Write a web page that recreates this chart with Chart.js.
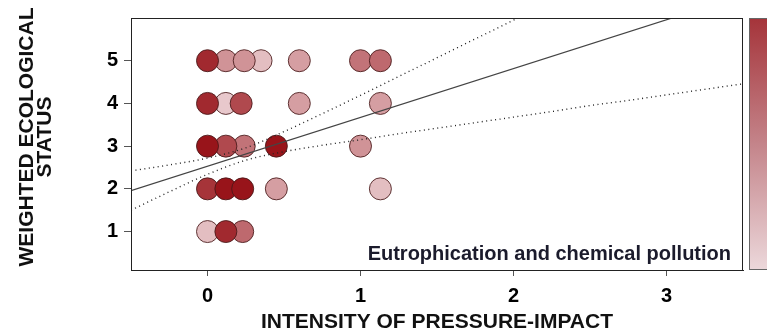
<!DOCTYPE html>
<html>
<head>
<meta charset="utf-8">
<script src="https://cdn.jsdelivr.net/npm/chart.js@4.4.0/dist/chart.umd.min.js"></script>
<style>
  html, body { margin: 0; padding: 0; background: #fff; }
  #wrap { width: 767px; height: 335px; }
</style>
</head>
<body>
<div id="wrap"><canvas id="chart" width="767" height="335"></canvas></div>
<script>
// pressure-impact intensity (x), weighted status (y), colour value (0 light .. 1 dark)
const pointX = [0, 0.12, 0.24, 0.35, 0.6, 1.0, 1.13,
                0, 0.12, 0.22, 0.6, 1.13,
                0, 0.12, 0.24, 0.45, 1.0,
                0, 0.12, 0.23, 0.45, 1.13,
                0, 0.12, 0.23];
const pointY = [5, 5, 5, 5, 5, 5, 5,
                4, 4, 4, 4, 4,
                3, 3, 3, 3, 3,
                2, 2, 2, 2, 2,
                1, 1, 1];
const pointShade = [0.9, 0.4, 0.4, 0.2, 0.35, 0.55, 0.6,
                    0.9, 0.15, 0.75, 0.35, 0.35,
                    1.0, 0.75, 0.55, 1.0, 0.4,
                    0.85, 1.0, 1.0, 0.35, 0.2,
                    0.2, 0.9, 0.6];

// regression line and its confidence band
const fitX = [-0.5, 3.5];
const fitY = [1.96, 6.53];
const bandX = [-0.5, -0.25, 0, 0.25, 0.5, 0.75, 1, 1.25, 1.5, 1.75, 2, 2.25, 2.5, 2.75, 3, 3.25, 3.5];
const bandUpper = [2.42, 2.56, 2.72, 2.96, 3.34, 3.76, 4.19, 4.63, 5.07, 5.51, 5.95, 6.39, 6.83, 7.27, 7.71, 8.16, 8.6];
const bandLower = [1.50, 1.93, 2.34, 2.67, 2.87, 3.02, 3.15, 3.29, 3.42, 3.55, 3.68, 3.81, 3.95, 4.07, 4.20, 4.33, 4.46];

const xTicks = [0, 1, 2, 3];
const yTicks = [1, 2, 3, 4, 5];
const yTitle = ['WEIGHTED ECOLOGICAL', 'STATUS'];
const panelLabel = 'Eutrophication and chemical pollution';

const shadeColor = (t) => {
    const lo = [246, 232, 235], hi = [152, 20, 26];
    const c = lo.map((v, i) => Math.round(v + (hi[i] - v) * t));
    return `rgb(${c[0]},${c[1]},${c[2]})`;
};

// darker circles drawn on top
const order = pointX.map((_, i) => i).sort((a, b) => pointShade[a] - pointShade[b]);
const scatterData = order.map(i => ({x: pointX[i], y: pointY[i]}));
const scatterColors = order.map(i => shadeColor(pointShade[i]));

const toXY = (xs, ys) => xs.map((x, i) => ({x: x, y: ys[i]}));

const boldFont = (size) => ({family: '"Liberation Sans", Arial, sans-serif', size: size, weight: 'bold'});

const framePlugin = {
    id: 'frame',
    afterDraw(chart) {
        const {ctx, chartArea: a} = chart;
        ctx.save();
        ctx.strokeStyle = '#222';
        ctx.lineWidth = 1;
        ctx.strokeRect(a.left + 0.5, a.top + 0.5, a.right - a.left - 1, a.bottom - a.top);

        // panel label
        ctx.font = 'bold 20px "Liberation Sans", Arial, sans-serif';
        ctx.fillStyle = '#1b1b2c';
        ctx.textAlign = 'right';
        ctx.textBaseline = 'alphabetic';
        ctx.fillText(panelLabel, a.right - 12, a.bottom - 10);

        // y title, two rotated lines
        ctx.font = 'bold 21px "Liberation Sans", Arial, sans-serif';
        ctx.fillStyle = '#111';
        ctx.textAlign = 'center';
        ctx.textBaseline = 'middle';
        [26.5, 44.5].forEach((x, i) => {
            ctx.save();
            ctx.translate(x, 137);
            ctx.rotate(-Math.PI / 2);
            ctx.fillText(yTitle[i], 0, 1);
            ctx.restore();
        });

        // colour bar
        const bx = a.right + 6, bw = 30;
        const g = ctx.createLinearGradient(0, a.top, 0, a.bottom);
        g.addColorStop(0, 'rgb(165,52,58)');
        g.addColorStop(0.5, 'rgb(196,132,138)');
        g.addColorStop(1, 'rgb(236,216,219)');
        ctx.fillStyle = g;
        ctx.fillRect(bx, a.top, bw, a.bottom - a.top);
        ctx.strokeStyle = '#666';
        ctx.strokeRect(bx + 0.5, a.top + 0.5, bw, a.bottom - a.top - 1);
        ctx.restore();
    }
};

const ctx = document.getElementById('chart').getContext('2d');
new Chart(ctx, {
    type: 'scatter',
    data: {
        datasets: [
            {
                label: 'fit',
                type: 'line',
                data: toXY(fitX, fitY),
                borderColor: '#444',
                borderWidth: 1.2,
                pointRadius: 0,
                fill: false,
                order: 0
            },
            {
                label: 'upper',
                type: 'line',
                data: toXY(bandX, bandUpper),
                borderColor: '#222',
                borderWidth: 1.4,
                borderDash: [1, 3.5],
                pointRadius: 0,
                cubicInterpolationMode: 'monotone',
                fill: false,
                order: 0
            },
            {
                label: 'lower',
                type: 'line',
                data: toXY(bandX, bandLower),
                borderColor: '#222',
                borderWidth: 1.4,
                borderDash: [1, 3.5],
                pointRadius: 0,
                cubicInterpolationMode: 'monotone',
                fill: false,
                order: 0
            },
            {
                label: 'sites',
                data: scatterData,
                backgroundColor: scatterColors,
                borderColor: 'rgba(70,25,25,0.85)',
                borderWidth: 1,
                pointRadius: 11,
                pointHoverRadius: 11,
                order: 1
            }
        ]
    },
    options: {
        responsive: false,
        animation: false,
        events: [],
        layout: {padding: {top: 15, right: 24, left: 0, bottom: 0}},
        plugins: {legend: {display: false}, tooltip: {enabled: false}},
        scales: {
            x: {
                type: 'linear',
                min: -0.5,
                max: 3.5,
                afterBuildTicks: s => { s.ticks = xTicks.map(v => ({value: v})); },
                afterFit: s => { s.height = 65; },
                grid: {drawOnChartArea: false, tickLength: 6, color: '#555'},
                border: {display: true, color: '#222'},
                ticks: {font: boldFont(20), color: '#000', padding: 8},
                title: {
                    display: true,
                    text: 'INTENSITY OF PRESSURE-IMPACT',
                    font: boldFont(21),
                    color: '#111',
                    padding: {top: 0, bottom: 0}
                }
            },
            y: {
                type: 'linear',
                min: 0.1,
                max: 6,
                afterBuildTicks: s => { s.ticks = yTicks.map(v => ({value: v})); },
                afterFit: s => { s.width = 131; },
                grid: {drawOnChartArea: false, tickLength: 7, color: '#555'},
                border: {display: true, color: '#222'},
                ticks: {font: boldFont(20), color: '#000', padding: 6}
            }
        }
    },
    plugins: [framePlugin]
});
</script>
</body>
</html>
